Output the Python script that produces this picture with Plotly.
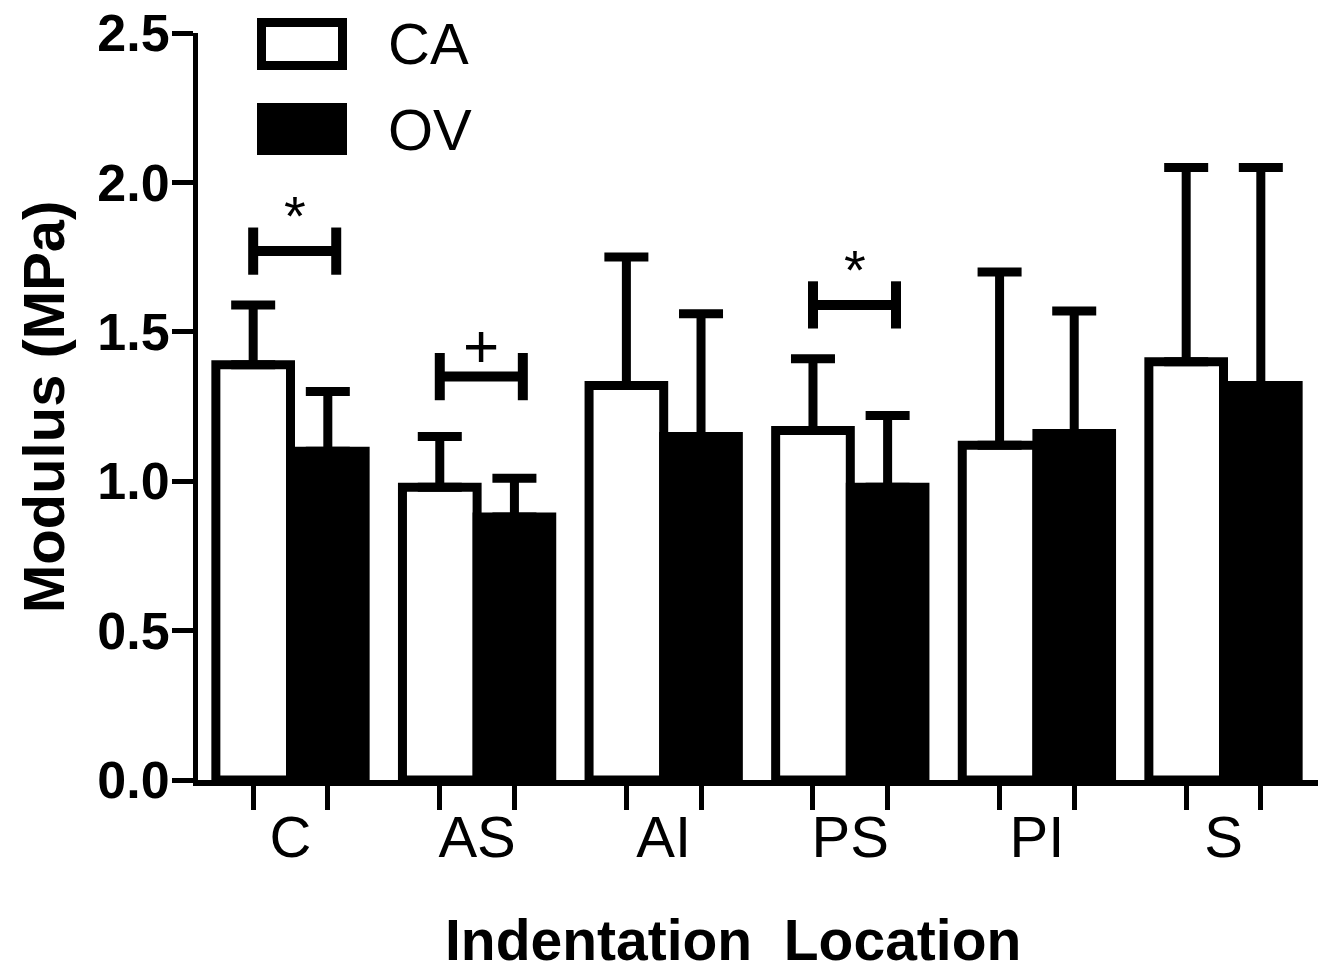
import plotly.graph_objects as go

# ---- data ----
categories = ["C", "AS", "AI", "PS", "PI", "S"]
series_names = ["CA", "OV"]
ca_mean = [1.39, 0.98, 1.32, 1.17, 1.12, 1.40]
ca_err = [0.20, 0.17, 0.43, 0.24, 0.58, 0.65]
ov_mean = [1.10, 0.88, 1.15, 0.98, 1.16, 1.32]
ov_err = [0.20, 0.13, 0.41, 0.24, 0.41, 0.73]
y_ticks = [0.0, 0.5, 1.0, 1.5, 2.0, 2.5]
sig_groups = [0, 1, 3]
sig_levels = [1.77, 1.35, 1.59]
sig_marks = ["*", "+", "*"]
x_title = "Indentation  Location"
y_title = "Modulus (MPa)"

# ---- layout geometry (screen pixels of the 1329x975 window) ----
W, H = 1329, 975
L, R, T, B = 198, 1318, 33, 780
FONT = "Liberation Sans, Arial, sans-serif"


def px_x(p):
    return (p - L) / (R - L)


def px_y(p):
    return (B - p) / (B - T)


idx = list(range(len(categories)))
half = 0.2  # half of one bar's width in group units
bar_centers = [i - half for i in idx] + [i + half for i in idx]

fig = go.Figure()
fig.add_trace(go.Bar(
    x=idx, y=ca_mean, name=series_names[0],
    marker=dict(color="white", line=dict(color="black", width=9)),
    error_y=dict(type="data", array=ca_err, arrayminus=[0] * len(ca_err),
                 symmetric=False, color="black", thickness=9, width=22),
    showlegend=False,
))
fig.add_trace(go.Bar(
    x=idx, y=ov_mean, name=series_names[1],
    marker=dict(color="black", line=dict(color="black", width=9)),
    error_y=dict(type="data", array=ov_err, arrayminus=[0] * len(ov_err),
                 symmetric=False, color="black", thickness=9, width=22),
    showlegend=False,
))

shapes = []
annotations = []

# significance brackets
cap_h = 0.079
right_ext = 0.245
for g, lev, mark in zip(sig_groups, sig_levels, sig_marks):
    x0, x1 = g - half, g + right_ext
    line = dict(color="black", width=10)
    shapes.append(dict(type="line", xref="x", yref="y", x0=x0, x1=x1, y0=lev, y1=lev, line=line))
    shapes.append(dict(type="line", xref="x", yref="y", x0=x0, x1=x0, y0=lev - cap_h, y1=lev + cap_h, line=line))
    shapes.append(dict(type="line", xref="x", yref="y", x0=x1, x1=x1, y0=lev - cap_h, y1=lev + cap_h, line=line))
    if mark == "*":
        annotations.append(dict(x=(x0 + x1) / 2, y=lev + 0.008, xref="x", yref="y", text="*",
                                showarrow=False, xanchor="center", yanchor="bottom",
                                font=dict(family=FONT, size=56, color="black")))
    else:
        annotations.append(dict(x=(x0 + x1) / 2, y=lev - 0.017, xref="x", yref="y", text="+",
                                showarrow=False, xanchor="center", yanchor="bottom",
                                font=dict(family=FONT, size=62, color="black")))

# custom legend
leg_boxes = [(22.5, 65.5, "white"), (107.5, 150.5, "black")]
leg_text_y = [43, 129]
for (y0, y1, fill), name, ty in zip(leg_boxes, series_names, leg_text_y):
    shapes.append(dict(type="rect", xref="paper", yref="paper",
                       x0=px_x(261.5), x1=px_x(342.5), y0=px_y(y1), y1=px_y(y0),
                       fillcolor=fill, line=dict(color="black", width=9)))
    annotations.append(dict(x=px_x(386), y=px_y(ty), xref="paper", yref="paper", text=name,
                            showarrow=False, xanchor="left", yanchor="middle",
                            font=dict(family=FONT, size=58, color="black")))

# axis titles
annotations.append(dict(x=px_x(733), y=px_y(974), xref="paper", yref="paper", text=x_title,
                        showarrow=False, xanchor="center", yanchor="bottom",
                        font=dict(family=FONT, size=57, color="black", weight="bold")))
annotations.append(dict(x=px_x(43), y=px_y(407), xref="paper", yref="paper", text=y_title,
                        showarrow=False, xanchor="center", yanchor="middle", textangle=-90,
                        font=dict(family=FONT, size=58, color="black", weight="bold")))

# x range so that group centres land where they do in the reference
gx0 = 290.5
gstep = 186.6
xr = [(L - gx0) / gstep, (R - gx0) / gstep]

fig.update_layout(
    width=W, height=H,
    margin=dict(l=L, r=W - R, t=T, b=H - B, pad=0, autoexpand=False),
    paper_bgcolor="white", plot_bgcolor="white",
    barmode="group", bargap=0.2, bargroupgap=0.0,
    shapes=shapes, annotations=annotations,
    xaxis=dict(
        range=xr, showgrid=False, zeroline=False, automargin=False,
        showline=True, linecolor="black", linewidth=6,
        tickmode="array", tickvals=idx, ticktext=categories,
        ticks="outside", ticklen=1, tickwidth=1, tickcolor="rgba(0,0,0,0)",
        ticklabeloverflow="allow",
        tickfont=dict(family=FONT, size=58, color="black"),
        minor=dict(tickmode="array", tickvals=bar_centers, ticks="outside",
                   ticklen=24, tickwidth=5, tickcolor="black", showgrid=False),
    ),
    yaxis=dict(
        range=[0, 2.5], showgrid=False, zeroline=False, automargin=False,
        showline=True, linecolor="black", linewidth=5,
        tickmode="array", tickvals=y_ticks, tickformat=".1f",
        ticks="outside", ticklen=21, tickwidth=5, tickcolor="black",
        ticklabeloverflow="allow", ticklabelstandoff=-8,
        tickfont=dict(family=FONT, size=52, color="black", weight="bold"),
    ),
)

fig.write_html("out.html", config={"displayModeBar": False},
               post_script="document.body.style.margin='0px';")
